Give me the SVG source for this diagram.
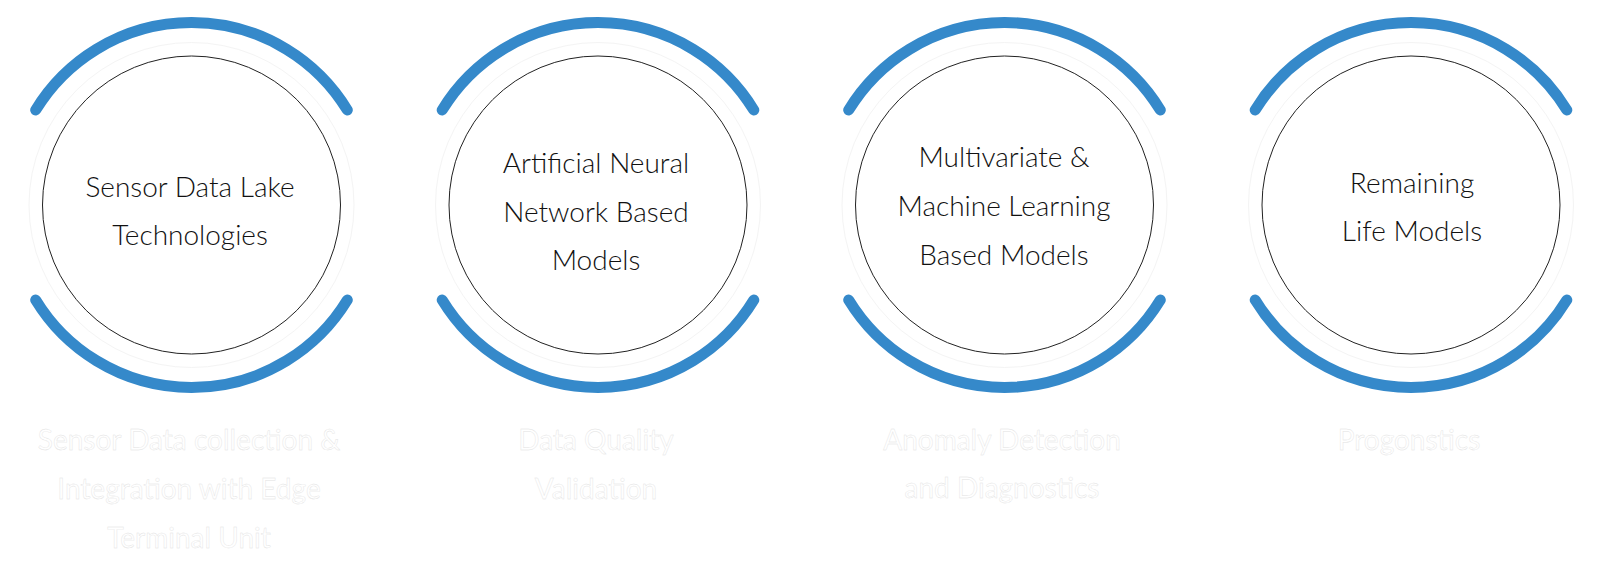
<svg xmlns="http://www.w3.org/2000/svg" width="1600" height="585" viewBox="0 0 1600 585">
<style>
.arc{fill:none;stroke:#3589ca;stroke-width:11;stroke-linecap:round}
.ring{fill:none;stroke:#f4f4f4;stroke-width:1}
.inner{fill:#fff;stroke:#222;stroke-width:1}
.t{font-family:Lato,"Open Sans",sans-serif;font-size:28px;font-weight:300;fill:#111;text-anchor:middle}
.w{font-family:Lato,"Open Sans",sans-serif;font-size:28px;fill:#fff;stroke:#e2e2e2;stroke-width:0.4;text-anchor:middle}
</style>
<rect width="1600" height="585" fill="#fff"/>
<g id="node1">
<path class="arc" d="M35.7 110 A182.5 182.5 0 0 1 347.3 110"/>
<path class="arc" d="M35.7 300 A182.5 182.5 0 0 0 347.3 300"/>
<circle class="ring" cx="191.5" cy="205" r="162.5"/>
<circle class="inner" cx="191.5" cy="205" r="149"/>
<text class="t" x="190" y="197">Sensor Data Lake</text>
<text class="t" x="190" y="245">Technologies</text>
<text class="w" x="189" y="450">Sensor Data collection &amp;</text>
<text class="w" x="189" y="499">Integration with Edge</text>
<text class="w" x="189" y="548">Terminal Unit</text>
</g>
<g id="node2">
<path class="arc" d="M442.2 110 A182.5 182.5 0 0 1 753.8 110"/>
<path class="arc" d="M442.2 300 A182.5 182.5 0 0 0 753.8 300"/>
<circle class="ring" cx="598" cy="205" r="162.5"/>
<circle class="inner" cx="598" cy="205" r="149"/>
<text class="t" x="596" y="173">Artificial Neural</text>
<text class="t" x="596" y="222">Network Based</text>
<text class="t" x="596" y="270">Models</text>
<text class="w" x="596" y="450">Data Quality</text>
<text class="w" x="596" y="499">Validation</text>
</g>
<g id="node3">
<path class="arc" d="M848.7 110 A182.5 182.5 0 0 1 1160.3 110"/>
<path class="arc" d="M848.7 300 A182.5 182.5 0 0 0 1160.3 300"/>
<circle class="ring" cx="1004.5" cy="205" r="162.5"/>
<circle class="inner" cx="1004.5" cy="205" r="149"/>
<text class="t" x="1004" y="167">Multivariate &amp;</text>
<text class="t" x="1004" y="216">Machine Learning</text>
<text class="t" x="1004" y="265">Based Models</text>
<text class="w" x="1002" y="450">Anomaly Detection</text>
<text class="w" x="1002" y="498">and Diagnostics</text>
</g>
<g id="node4">
<path class="arc" d="M1255.2 110 A182.5 182.5 0 0 1 1566.8 110"/>
<path class="arc" d="M1255.2 300 A182.5 182.5 0 0 0 1566.8 300"/>
<circle class="ring" cx="1411" cy="205" r="162.5"/>
<circle class="inner" cx="1411" cy="205" r="149"/>
<text class="t" x="1412" y="193">Remaining</text>
<text class="t" x="1412" y="241">Life Models</text>
<text class="w" x="1409" y="450">Progonstics</text>
</g>
<g id="connectors"></g>
</svg>
